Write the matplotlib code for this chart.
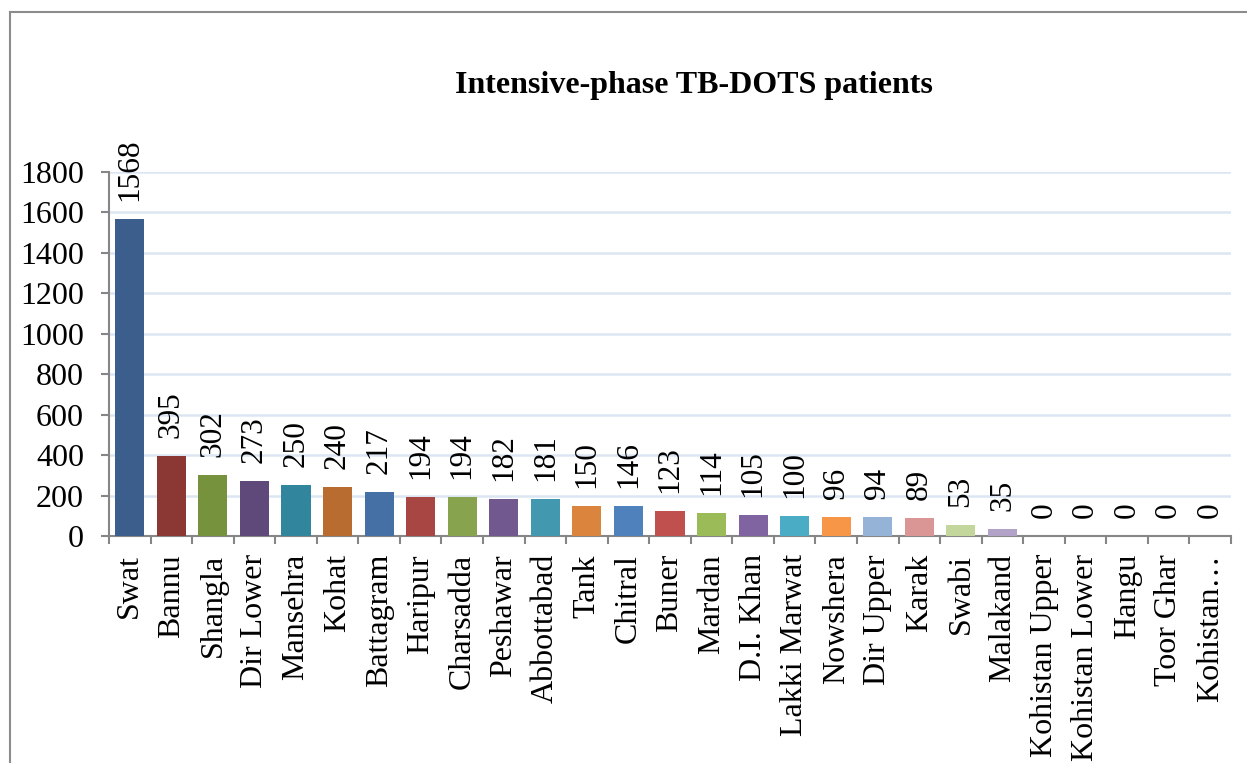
import numpy as np
import matplotlib.pyplot as plt
from matplotlib.lines import Line2D

plt.rcParams['font.family'] = ['Liberation Serif', 'DejaVu Serif']

districts = ["Swat", "Bannu", "Shangla", "Dir Lower", "Mansehra", "Kohat",
             "Battagram", "Haripur", "Charsadda", "Peshawar", "Abbottabad",
             "Tank", "Chitral", "Buner", "Mardan", "D.I. Khan", "Lakki Marwat",
             "Nowshera", "Dir Upper", "Karak", "Swabi", "Malakand",
             "Kohistan Upper", "Kohistan Lower", "Hangu", "Toor Ghar",
             "Kohistan\u2026"]
patients = [1568, 395, 302, 273, 250, 240, 217, 194, 194, 182, 181, 150, 146,
            123, 114, 105, 100, 96, 94, 89, 53, 35, 0, 0, 0, 0, 0]
colors = ["#3b5e8c", "#8b3835", "#76923c", "#5f497a", "#31859c", "#b96c30",
          "#4470a5", "#a84644", "#87a34d", "#71588f", "#4198af", "#db843d",
          "#4f81bd", "#c0504d", "#9bbb59", "#8064a2", "#4bacc6", "#f79646",
          "#95b3d7", "#d99694", "#c3d69b", "#b2a2c7", "#4f81bd", "#c0504d",
          "#9bbb59", "#8064a2", "#4bacc6"]

fig = plt.figure(figsize=(12.47, 7.63), dpi=100)
ax = fig.add_axes([0.0874, 0.2975, 0.8998, 0.4771])

x = np.arange(len(districts))
ax.bar(x, patients, width=0.7, color=colors, zorder=3)

for xi, v in zip(x, patients):
    ax.annotate(str(v), (xi, v), xytext=(0, 13), textcoords="offset points",
                rotation=90, ha="center", va="bottom", fontsize=22.5)

ax.set_xlim(-0.5, len(districts) - 0.5)
ax.set_ylim(0, 1800)
ax.set_yticks(np.arange(0, 1801, 200))
ax.yaxis.grid(True, color="#dce6f2", linewidth=1.8, zorder=0)
ax.set_axisbelow(True)

ax.set_xticks(x)
ax.set_xticklabels(districts, rotation=90, fontsize=23)
ax.set_xticks(np.arange(-0.5, len(districts), 1), minor=True)
ax.tick_params(axis="x", which="major", length=0, pad=13)
ax.tick_params(axis="x", which="minor", length=6, width=1.5, color="#868686")
ax.tick_params(axis="y", length=6, width=1.5, color="#868686", pad=12,
               labelsize=23)

for s in ["top", "right"]:
    ax.spines[s].set_visible(False)
for s in ["left", "bottom"]:
    ax.spines[s].set_color("#868686")
    ax.spines[s].set_linewidth(1.5)

fig.text(694 / 1247, 1 - 85 / 763, "Intensive-phase TB-DOTS patients",
         ha="center", va="center", fontsize=23, fontweight="bold")

# outer chart frame
fx, fy = 10 / 1247, 1 - 12 / 763
fig.add_artist(Line2D([fx, fx], [0, fy], color="#8c8c8c", linewidth=1.5))
fig.add_artist(Line2D([fx, 1], [fy, fy], color="#8c8c8c", linewidth=1.5))

fig.savefig("out.png", dpi=100)
